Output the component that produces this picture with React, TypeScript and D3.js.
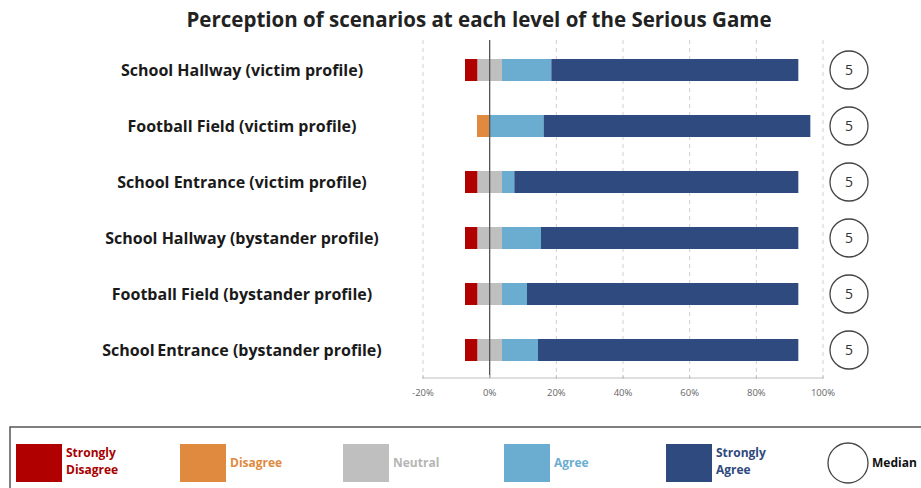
import React from 'react';
import * as d3 from 'd3';

// Data (percent of respondents)
const categories = [
  'School Hallway (victim profile)',
  'Football Field (victim profile)',
  'School Entrance (victim profile)',
  'School Hallway (bystander profile)',
  'Football Field (bystander profile)',
  'School\u2009Entrance (bystander profile)',
];
const stronglyDisagree = [3.7, 0, 3.7, 3.7, 3.7, 3.7];
const disagree = [0, 3.8, 0, 0, 0, 0];
const neutral = [7.4, 0, 7.4, 7.4, 7.4, 7.4];
const agree = [14.8, 16.2, 3.7, 11.7, 7.5, 10.8];
const stronglyAgree = [74.1, 80.0, 85.2, 77.2, 81.4, 78.1];
const medians = [5, 5, 5, 5, 5, 5];
const xTicks = [-20, 0, 20, 40, 60, 80, 100];

const legendItems = [
  { lines: ['Strongly', 'Disagree'], color: '#b00000', text: '#a80000' },
  { lines: ['Disagree'], color: '#df8a3e', text: '#df8a3e' },
  { lines: ['Neutral'], color: '#bfbfbf', text: '#b5b5b5' },
  { lines: ['Agree'], color: '#6badd0', text: '#6badd0' },
  { lines: ['Strongly', 'Agree'], color: '#2f4a7e', text: '#2f4a7e' },
];

const FONT = '"Open Sans", Lato, sans-serif';

const App: React.FC = () => {
  const width = 921;
  const height = 488;

  const x = d3.scaleLinear().domain([-20, 100]).range([423, 823]);
  const y = d3.scaleBand().domain(categories).range([42, 378]).padding(0);
  const barH = 22;
  const plotTop = 40;
  const plotBottom = 378;

  const rows = categories.map((c, i) => {
    const half = neutral[i] / 2;
    const segs: { x0: number; x1: number; color: string }[] = [];
    // left side, from zero outward
    let l = 0;
    segs.push({ x0: l - half, x1: l, color: legendItems[2].color });
    l -= half;
    segs.push({ x0: l - disagree[i], x1: l, color: legendItems[1].color });
    l -= disagree[i];
    segs.push({ x0: l - stronglyDisagree[i], x1: l, color: legendItems[0].color });
    // right side
    let r = 0;
    segs.push({ x0: r, x1: r + half, color: legendItems[2].color });
    r += half;
    segs.push({ x0: r, x1: r + agree[i], color: legendItems[3].color });
    r += agree[i];
    segs.push({ x0: r, x1: r + stronglyAgree[i], color: legendItems[4].color });
    return { c, segs: segs.filter(s => s.x1 - s.x0 > 0), cy: (y(c) ?? 0) + y.bandwidth() / 2 };
  });

  const legendX = [16, 180, 343, 504, 666];

  return (
    <svg
      width={width}
      height={height}
      style={{ position: 'absolute', left: 0, top: 0, background: '#fff' }}
      fontFamily={FONT}
    >
      <text x={479} y={27} textAnchor="middle" fontSize={20.5} fontWeight={700} fill="#222">
        Perception of scenarios at each level of the Serious Game
      </text>

      {/* gridlines */}
      {xTicks.filter(t => t !== 0).map(t => (
        <line key={t} x1={x(t)} x2={x(t)} y1={plotTop} y2={plotBottom}
          stroke="#d0d0d0" strokeDasharray="4,4" strokeWidth={1} />
      ))}

      {/* bars */}
      {rows.map(row => (
        <g key={row.c}>
          {row.segs.map((s, j) => (
            <rect key={j} x={x(s.x0)} width={x(s.x1) - x(s.x0)} y={row.cy - barH / 2} height={barH} fill={s.color} />
          ))}
          <text x={242} y={row.cy + 5.5} textAnchor="middle" fontSize={16} fontWeight={700} fill="#1a1a1a">
            {row.c}
          </text>
        </g>
      ))}

      {/* zero line */}
      <line x1={x(0)} x2={x(0)} y1={plotTop} y2={plotBottom} stroke="#555" strokeWidth={1.3} />

      {/* x axis */}
      <line x1={x(-20)} x2={x(100)} y1={plotBottom} y2={plotBottom} stroke="#bfbfbf" strokeWidth={1.2} />
      {xTicks.map(t => (
        <g key={t}>
          <line x1={x(t)} x2={x(t)} y1={plotBottom - 3} y2={plotBottom + 1} stroke="#bfbfbf" />
          <text x={x(t)} y={plotBottom + 18} textAnchor="middle" fontSize={9.5} fill="#666">
            {`${t}%`}
          </text>
        </g>
      ))}

      {/* medians */}
      {rows.map((row, i) => (
        <g key={`m${i}`}>
          <circle cx={849} cy={row.cy} r={19} fill="#fff" stroke="#444" strokeWidth={1.3} />
          <text x={849} y={row.cy + 5} textAnchor="middle" fontSize={14} fill="#333">{medians[i]}</text>
        </g>
      ))}

      {/* legend */}
      <rect x={10} y={427} width={940} height={80} fill="none" stroke="#555" strokeWidth={1.5} />
      {legendItems.map((it, i) => (
        <g key={i}>
          <rect x={legendX[i]} y={444} width={46} height={38} fill={it.color} />
          {it.lines.map((ln, k) => (
            <text key={k} x={legendX[i] + 50} y={it.lines.length === 1 ? 467 : 457 + k * 17}
              fontSize={12} fontWeight={700} fill={it.text}>
              {ln}
            </text>
          ))}
        </g>
      ))}
      <circle cx={848} cy={463} r={20} fill="#fff" stroke="#444" strokeWidth={1.3} />
      <text x={872} y={467} fontSize={12} fontWeight={700} fill="#111">Median</text>
    </svg>
  );
};

export default App;
